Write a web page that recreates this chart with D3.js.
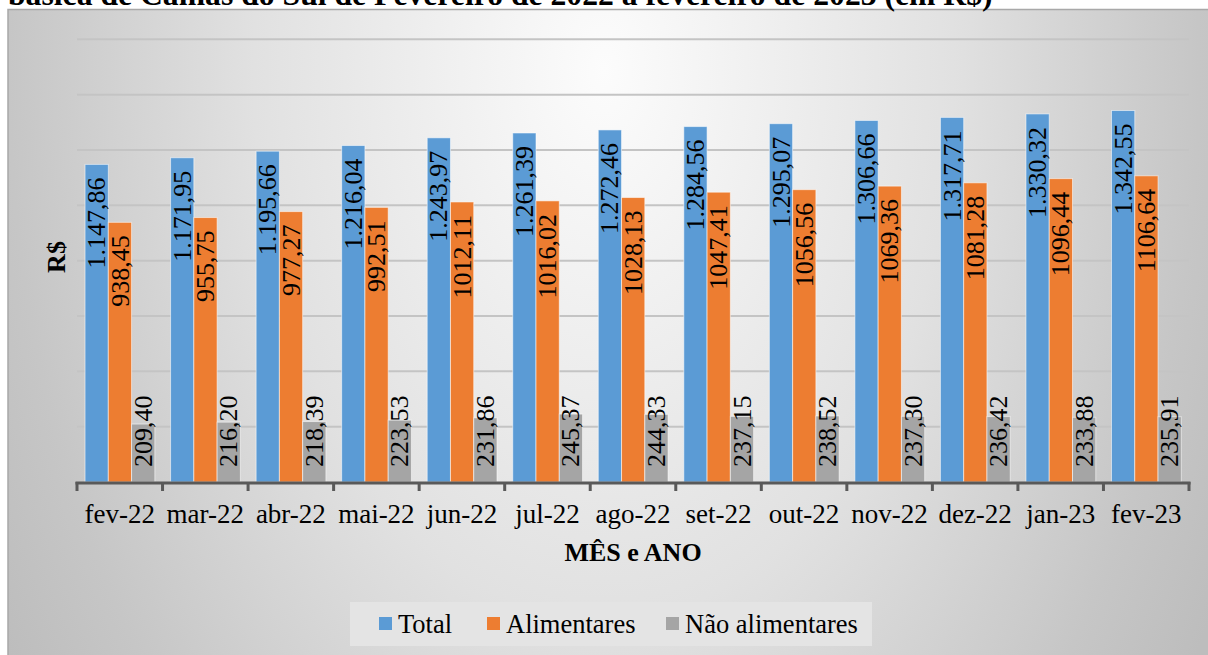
<!DOCTYPE html>
<html>
<head>
<meta charset="utf-8">
<script src="https://cdn.jsdelivr.net/npm/d3@7"></script>
<style>
  body { margin: 0; background: #fff; }
  svg { display: block; font-family: "Liberation Serif", "Times New Roman", serif; }
</style>
</head>
<body>
<script>
const months = ["fev-22", "mar-22", "abr-22", "mai-22", "jun-22", "jul-22", "ago-22",
  "set-22", "out-22", "nov-22", "dez-22", "jan-23", "fev-23"];
const total = [1147.86, 1171.95, 1195.66, 1216.04, 1243.97, 1261.39, 1272.46,
  1284.56, 1295.07, 1306.66, 1317.71, 1330.32, 1342.55];
const alimentares = [938.45, 955.75, 977.27, 992.51, 1012.11, 1016.02, 1028.13,
  1047.41, 1056.56, 1069.36, 1081.28, 1096.44, 1106.64];
const naoAlimentares = [209.40, 216.20, 218.39, 223.53, 231.86, 245.37, 244.33,
  237.15, 238.52, 237.30, 236.42, 233.88, 235.91];
const seriesNames = ["Total", "Alimentares", "Não alimentares"];
const yTicks = [0, 200, 400, 600, 800, 1000, 1200, 1400, 1600];

const W = 1208, H = 655;
const colors = ["#5b9bd5", "#ed7d31", "#a5a5a5"];

const loc = d3.formatLocale({ decimal: ",", thousands: ".", grouping: [3], currency: ["R$", ""] });
const fmtGroup = loc.format(",.2f");
const fmtPlain = loc.format(".2f");
const formats = [fmtGroup, fmtPlain, fmtPlain];

const svg = d3.select("body").append("svg").attr("width", W).attr("height", H);

// background gradient
const defs = svg.append("defs");
const grad = defs.append("radialGradient")
  .attr("id", "bg")
  .attr("gradientUnits", "userSpaceOnUse")
  .attr("cx", 0).attr("cy", 0).attr("r", 1)
  .attr("gradientTransform", "translate(604,70) scale(700,1100)");
grad.append("stop").attr("offset", 0).attr("stop-color", "#fcfcfc");
grad.append("stop").attr("offset", 0.5).attr("stop-color", "#e1e1e1");
grad.append("stop").attr("offset", 0.85).attr("stop-color", "#c6c6c6");
grad.append("stop").attr("offset", 1).attr("stop-color", "#bdbdbd");

svg.append("rect")
  .attr("x", 8).attr("y", 9.5)
  .attr("width", W).attr("height", H)
  .attr("fill", "url(#bg)")
  .attr("stroke", "#a8a8a8").attr("stroke-width", 1.5);

// title (cut off at the top, as in the source page)
const title = svg.append("text")
  .attr("x", 8).attr("y", 5)
  .attr("font-weight", "bold")
  .attr("font-size", 26)
  .attr("fill", "#000")
  .text("básica de Camas do Sul de Fevereiro de 2022 a fevereiro de 2023 (em R$)");
const tl = title.node().getComputedTextLength();
title.attr("font-size", 26 * 985 / tl);

const plotLeft = 77, plotRight = 1189, plotBottom = 482, plotTop = 39.3;

const x0 = d3.scaleBand().domain(months).range([plotLeft, plotRight]);
const bw = x0.bandwidth();
const x1 = d3.scaleBand().domain(seriesNames).range([bw * 0.094, bw * 0.91]);
const y = d3.scaleLinear().domain([0, 1600]).range([plotBottom, plotTop]);

// gridlines
svg.append("g")
  .selectAll("line")
  .data(yTicks.slice(1))
  .enter()
  .append("line")
  .attr("x1", plotLeft).attr("x2", plotRight)
  .attr("y1", (d) => y(d)).attr("y2", (d) => y(d))
  .attr("stroke", "#c4c4c4")
  .attr("stroke-width", 2);

const rows = months.map((m, i) => ({
  month: m,
  values: [total[i], alimentares[i], naoAlimentares[i]]
}));

const groups = svg.append("g")
  .selectAll("g")
  .data(rows)
  .enter()
  .append("g")
  .attr("transform", (d) => `translate(${x0(d.month)},0)`);

groups.selectAll("rect")
  .data((d) => d.values.map((v, k) => ({ v, k })))
  .enter()
  .append("rect")
  .attr("x", (d) => x1(seriesNames[d.k]))
  .attr("width", x1.bandwidth())
  .attr("y", (d) => y(d.v))
  .attr("height", (d) => plotBottom - y(d.v))
  .attr("fill", (d) => colors[d.k])
  .attr("stroke", "rgba(255,255,255,0.55)")
  .attr("stroke-width", 1);

groups.selectAll("text")
  .data((d) => d.values.map((v, k) => ({ v, k })))
  .enter()
  .append("text")
  .attr("transform", (d) => {
    const cx = x1(seriesNames[d.k]) + x1.bandwidth() / 2;
    const cy = d.k === 2 ? plotBottom - 15 : y(d.v) + 13;
    return `translate(${cx},${cy}) rotate(-90)`;
  })
  .attr("text-anchor", (d) => (d.k === 2 ? "start" : "end"))
  .attr("dy", "0.33em")
  .attr("font-size", 26)
  .attr("fill", "#000")
  .text((d) => formats[d.k](d.v));

// x axis
const ax = svg.append("g");
ax.append("line")
  .attr("x1", plotLeft - 1.5).attr("x2", plotRight + 1.5)
  .attr("y1", plotBottom + 1).attr("y2", plotBottom + 1)
  .attr("stroke", "#595959").attr("stroke-width", 3);
ax.selectAll("line.tick")
  .data(months.concat(["end"]))
  .enter()
  .append("line")
  .attr("class", "tick")
  .attr("x1", (d, i) => plotLeft + i * bw).attr("x2", (d, i) => plotLeft + i * bw)
  .attr("y1", plotBottom).attr("y2", plotBottom + 9)
  .attr("stroke", "#595959").attr("stroke-width", 3);
ax.selectAll("text")
  .data(months)
  .enter()
  .append("text")
  .attr("x", (d) => x0(d) + bw / 2)
  .attr("y", 523)
  .attr("text-anchor", "middle")
  .attr("font-size", 27)
  .attr("fill", "#000")
  .text((d) => d);

// axis titles
svg.append("text")
  .attr("x", (plotLeft + plotRight) / 2)
  .attr("y", 561)
  .attr("text-anchor", "middle")
  .attr("font-size", 26)
  .attr("font-weight", "bold")
  .text("MÊS e ANO");

svg.append("text")
  .attr("transform", "translate(65,257) rotate(-90)")
  .attr("text-anchor", "middle")
  .attr("font-size", 26)
  .attr("font-weight", "bold")
  .text("R$");

// legend
const legend = svg.append("g");
legend.append("rect")
  .attr("x", 350).attr("y", 602)
  .attr("width", 522).attr("height", 44)
  .attr("fill", "#e4e4e4");
const itemX = [379, 487, 666];
seriesNames.forEach((name, k) => {
  legend.append("rect")
    .attr("x", itemX[k]).attr("y", 617)
    .attr("width", 13).attr("height", 13)
    .attr("fill", colors[k]);
  legend.append("text")
    .attr("x", itemX[k] + 19).attr("y", 633)
    .attr("font-size", 26.5)
    .attr("fill", "#000")
    .text(name);
});
</script>
</body>
</html>
